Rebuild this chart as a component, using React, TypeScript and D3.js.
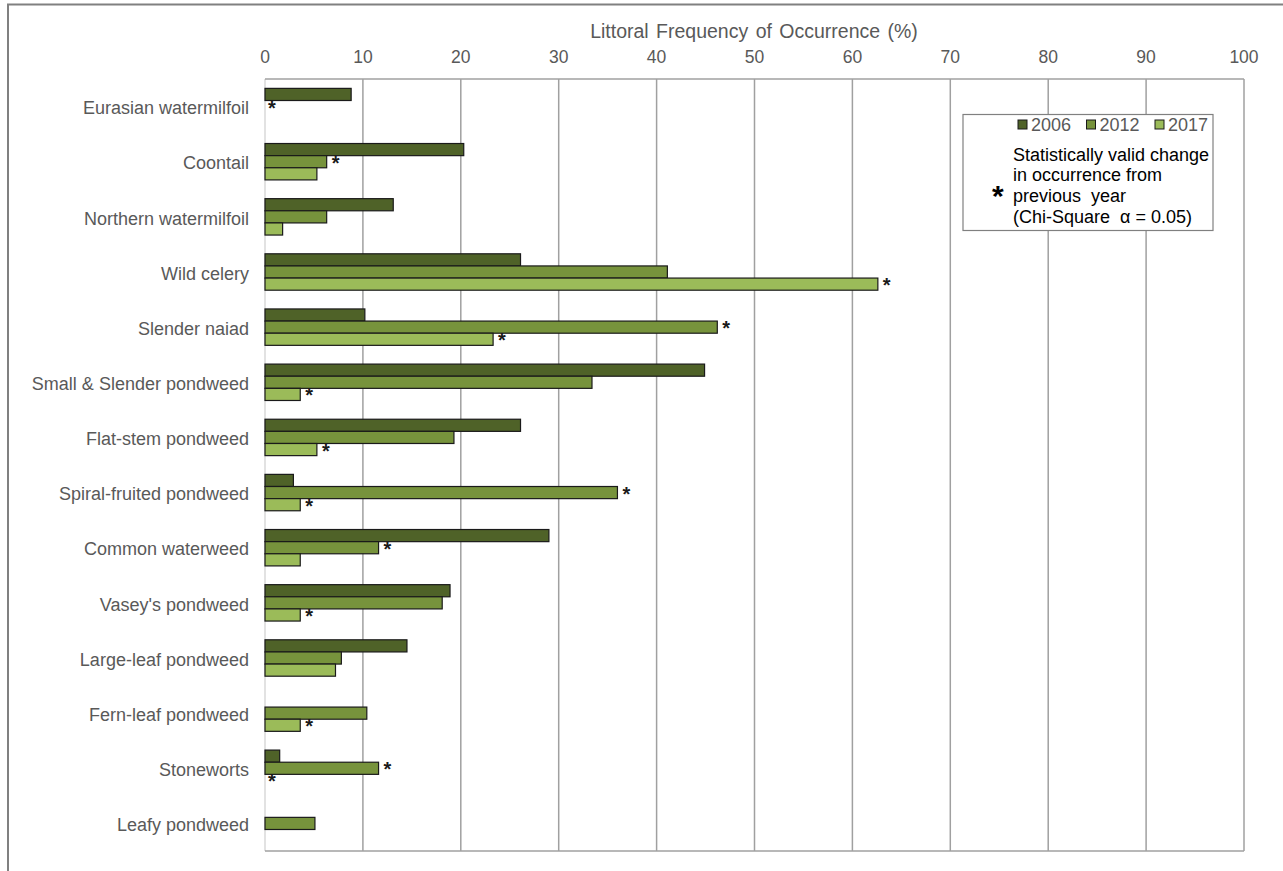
import React from "react";
import * as d3 from "d3";

const categories = [
  "Eurasian watermilfoil",
  "Coontail",
  "Northern watermilfoil",
  "Wild celery",
  "Slender naiad",
  "Small & Slender pondweed",
  "Flat-stem pondweed",
  "Spiral-fruited pondweed",
  "Common waterweed",
  "Vasey's pondweed",
  "Large-leaf pondweed",
  "Fern-leaf pondweed",
  "Stoneworts",
  "Leafy pondweed",
];
const years = ["2006", "2012", "2017"];
const values2006 = [8.8, 20.3, 13.1, 26.1, 10.2, 44.9, 26.1, 2.9, 29.0, 18.9, 14.5, 0, 1.5, 0];
const values2012 = [0, 6.3, 6.3, 41.1, 46.2, 33.4, 19.3, 36.0, 11.6, 18.1, 7.8, 10.4, 11.6, 5.1];
const values2017 = [0, 5.3, 1.8, 62.6, 23.3, 3.6, 5.3, 3.6, 3.6, 3.6, 7.2, 3.6, 0, 0];
// significance flags (asterisks)
const sig2006 = [0, 0, 0, 0, 0, 0, 0, 0, 0, 0, 0, 0, 0, 0];
const sig2012 = [1, 1, 0, 0, 1, 0, 0, 1, 1, 0, 0, 0, 1, 0];
const sig2017 = [0, 0, 0, 1, 1, 1, 1, 1, 0, 1, 0, 1, 1, 0];
const xTicks = [0, 10, 20, 30, 40, 50, 60, 70, 80, 90, 100];
const colors = ["#4F6228", "#77933C", "#9BBB59"];
const legendLines = ["Statistically valid change", "in occurrence from", "previous  year", "(Chi-Square  α = 0.05)"];

const W = 1283;
const H = 871;
const FONT = "Arial, 'Liberation Sans', sans-serif";
const TXT = "#595959";

export default function App() {
  const left = 265;
  const right = 1244;
  const top = 79;
  const bottom = 851;
  const x = d3.scaleLinear().domain([0, 100]).range([left, right]);
  const y = d3.scaleBand().domain(categories).range([top, bottom]).paddingInner(0.34).paddingOuter(0.17);
  const sub = d3.scaleBand().domain(years).range([0, y.bandwidth()]);
  const series = [values2006, values2012, values2017];
  const sigs = [sig2006, sig2012, sig2017];

  return (
    <svg width={W} height={H} style={{ position: "absolute", left: 0, top: 0 }} fontFamily={FONT}>
      <rect x={0} y={0} width={W} height={H} fill="#fff" />
      {/* outer border */}
      <rect x={8} y={4.5} width={1290} height={900} fill="none" stroke="#808080" strokeWidth={2} />
      {/* gridlines */}
      {xTicks.map((t) => (
        <line key={t} x1={x(t)} x2={x(t)} y1={top} y2={bottom} stroke={t === 0 ? "#D9D9D9" : "#A0A0A0"} strokeWidth={1.5} />
      ))}
      <line x1={left} x2={right} y1={top} y2={top} stroke="#A0A0A0" strokeWidth={1.5} />
      <line x1={left} x2={right} y1={bottom} y2={bottom} stroke="#A0A0A0" strokeWidth={1.5} />
      {/* tick labels */}
      {xTicks.map((t) => (
        <text key={"l" + t} x={x(t)} y={58} textAnchor="middle" dominantBaseline="middle" fontSize={17.5} fill={TXT}>
          {t}
        </text>
      ))}
      <text x={754} y={33} textAnchor="middle" dominantBaseline="middle" fontSize={19.5} fill={TXT} wordSpacing={2}>
        Littoral Frequency of Occurrence (%)
      </text>
      {/* category labels */}
      {categories.map((c) => (
        <text key={c} x={249} y={(y(c) as number) + y.bandwidth() / 2 + 3} textAnchor="end" dominantBaseline="middle" fontSize={18} fill={TXT}>
          {c}
        </text>
      ))}
      {/* bars */}
      {series.map((vals, si) =>
        vals.map((v, i) => {
          const yy = (y(categories[i]) as number) + (sub(years[si]) as number);
          const h = sub.bandwidth();
          return (
            <g key={si + "-" + i}>
              {v > 0 && (
                <rect x={x(0)} y={yy} width={x(v) - x(0)} height={h} fill={colors[si]} stroke="#1a1a1a" strokeWidth={1.2} />
              )}
              {sigs[si][i] === 1 && (
                <text x={x(v) + (v > 0 ? 5 : 3)} y={yy + h / 2 + 8} fontSize={20} fontWeight="bold" fill="#1a1a1a">
                  *
                </text>
              )}
            </g>
          );
        })
      )}
      {/* legend */}
      <rect x={963} y={114.5} width={250} height={116} fill="#fff" stroke="#808080" strokeWidth={1.2} />
      {years.map((yr, i) => {
        const lx = 1018 + i * 68.5;
        return (
          <g key={yr}>
            <rect x={lx} y={120} width={9} height={9} fill={colors[i]} stroke="#1a1a1a" strokeWidth={1} />
            <text x={lx + 13} y={126} dominantBaseline="middle" fontSize={18} fill={TXT}>
              {yr}
            </text>
          </g>
        );
      })}
      <text x={992} y={206} fontSize={30} fontWeight="bold" fill="#000">
        *
      </text>
      {legendLines.map((s, i) => (
        <text key={s} x={1013} y={156 + i * 20.7} dominantBaseline="middle" fontSize={18} fill="#000" style={{ whiteSpace: "pre" }}>
          {s}
        </text>
      ))}
    </svg>
  );
}
